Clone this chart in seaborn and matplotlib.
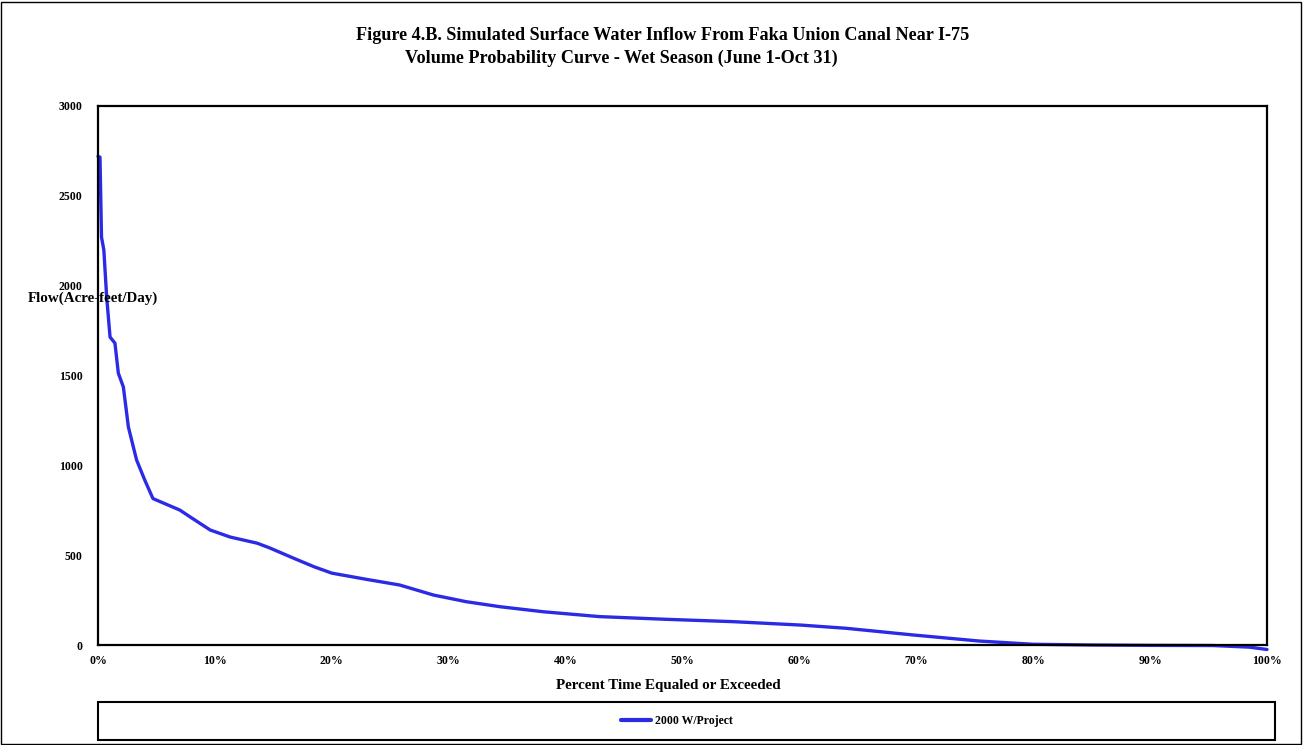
import matplotlib
matplotlib.use("Agg")
import matplotlib.pyplot as plt
from matplotlib.patches import Rectangle
from matplotlib.ticker import PercentFormatter
import seaborn as sns
import pandas as pd

# Data
pct_exceeded = [0.0, 0.17, 0.3, 0.5, 0.74, 1.03, 1.45, 1.74, 2.17, 2.6, 3.3, 4.0, 4.7,
                5.6, 7.0, 7.9, 9.6, 11.3, 13.6, 14.7, 16.7, 18.5, 20.0, 23.0, 25.8, 28.7,
                31.5, 34.4, 38.1, 42.9, 48.6, 54.3, 60.1, 64.0, 69.7, 75.4, 80.0,
                85.0, 90.0, 95.4, 98.5, 100.0]
flow = [2720, 2715, 2270, 2198, 1938, 1714, 1680, 1513, 1436, 1213, 1030, 918, 815,
        790, 751, 712, 640, 601, 567, 540, 484, 435, 400, 365, 334, 278,
        241, 213, 185, 158, 143, 130, 111, 93, 56, 22, 4,
        0, -2, -3, -12, -25]
series_name = "2000 W/Project"
title_line1 = "Figure 4.B. Simulated Surface Water Inflow From Faka Union Canal Near I-75"
title_line2 = "Volume Probability Curve - Wet Season (June 1-Oct 31)"
x_label = "Percent Time Equaled or Exceeded"
y_label = "Flow(Acre-feet/Day)"
y_ticks = [0, 500, 1000, 1500, 2000, 2500, 3000]
x_ticks = [0, 10, 20, 30, 40, 50, 60, 70, 80, 90, 100]

df = pd.DataFrame({"pct": pct_exceeded, "flow": flow, "series": series_name})

sns.set_style("white")
plt.rcParams["font.family"] = ["Liberation Serif", "DejaVu Serif"]
plt.rcParams["font.weight"] = "bold"
plt.rcParams["text.color"] = "black"

W, H = 1303, 745
fig = plt.figure(figsize=(W / 100, H / 100), dpi=100)
ax = fig.add_axes([98 / W, 1 - 645 / H, (1267 - 98) / W, (645 - 106) / H])

sns.lineplot(data=df, x="pct", y="flow", hue="series", palette=["#2b2be6"],
             linewidth=2.4, ax=ax, legend=False, clip_on=False, estimator=None,
             sort=False)

ax.set_xlim(0, 100)
ax.set_ylim(0, 3000)
ax.set_xticks(x_ticks)
ax.set_yticks(y_ticks)
ax.xaxis.set_major_formatter(PercentFormatter(decimals=0))
ax.set_xlabel("")
ax.set_ylabel("")
for s in ax.spines.values():
    s.set_visible(True)
    s.set_color("black")
    s.set_linewidth(1.6)
ax.tick_params(axis="x", direction="inout", length=7, width=1.2, labelsize=8.5, pad=4, colors="black")
ax.tick_params(axis="y", direction="out", length=5, width=1.2, labelsize=8.5, pad=6, colors="black")
for lab in ax.get_xticklabels() + ax.get_yticklabels():
    lab.set_fontweight("bold")

# Titles
fig.text(663 / W, 1 - 36 / H, title_line1, ha="center", va="center", fontsize=13.1,
         fontweight="bold", color="black")
fig.text(405 / W, 1 - 58 / H, title_line2, ha="left", va="center", fontsize=13.1,
         fontweight="bold", color="black")

# Axis labels
fig.text(668 / W, 1 - 686 / H, x_label, ha="center", va="center", fontsize=10.8,
         fontweight="bold", color="black")
fig.text(28 / W, 1 - 298 / H, y_label, ha="left", va="center", fontsize=10.8,
         fontweight="bold", color="black")

# Legend box
fig.patches.append(Rectangle((98 / W, 1 - 740 / H), (1275 - 98) / W, 38 / H,
                             transform=fig.transFigure, fill=False, edgecolor="black",
                             linewidth=1.5))
handles = [plt.Line2D([0], [0], color="#2b2be6", linewidth=3)]
leg = fig.legend(handles, [series_name], loc="center", bbox_to_anchor=(677 / W, 1 - 721 / H),
                 frameon=False, fontsize=8.5, handlelength=2.5, handletextpad=0.4)
for t in leg.get_texts():
    t.set_color("black")

# Outer frame
fig.patches.append(Rectangle((1 / W, 1 / H), (W - 3) / W, (H - 3) / H,
                             transform=fig.transFigure, fill=False, edgecolor="black",
                             linewidth=1))

fig.savefig("out.png", dpi=100)
